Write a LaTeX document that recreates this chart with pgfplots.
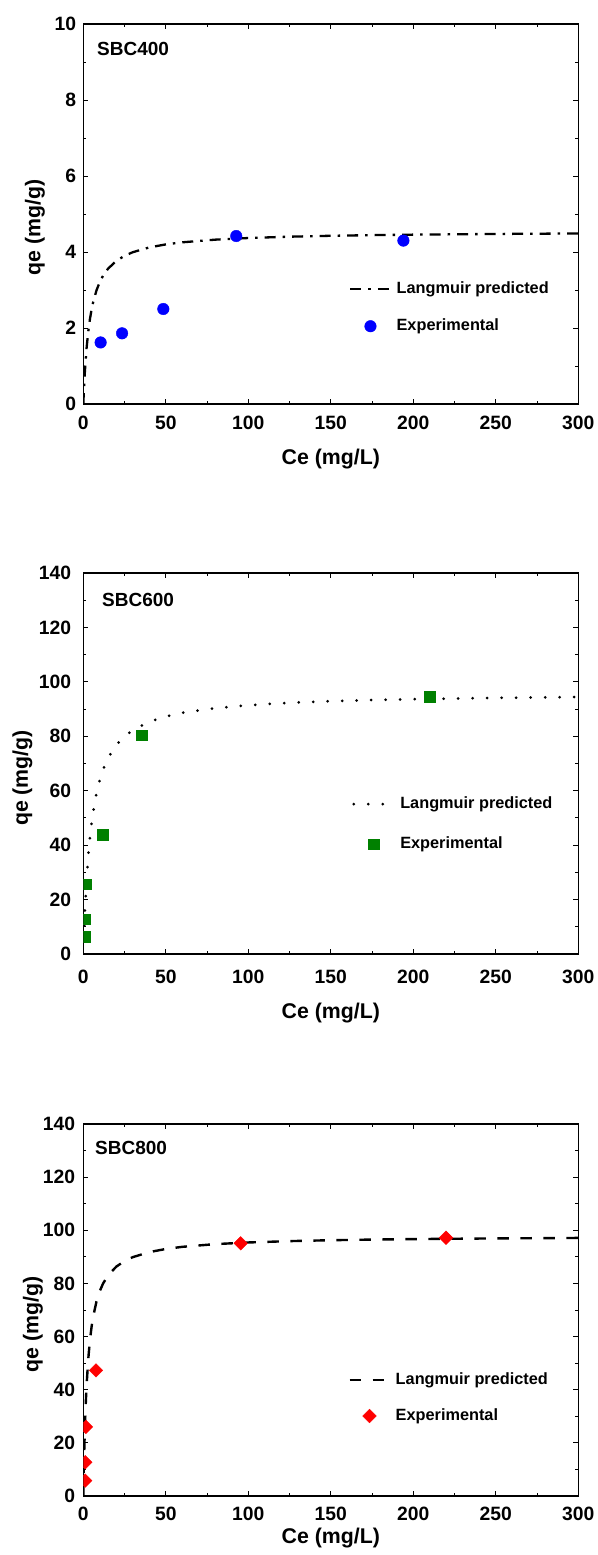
\documentclass[border=0pt]{standalone}
\usepackage{pgfplots}
\pgfplotsset{compat=1.18}
\usepackage{fontspec}
\setmainfont{Liberation Sans}

\definecolor{mblue}{RGB}{0,0,255}
\definecolor{mgreen}{RGB}{0,128,0}
\definecolor{mred}{RGB}{255,0,0}

\pgfplotsset{
  myaxis/.style={
    scale only axis, width=495pt,
    xmin=0, xmax=300, xtick={0,50,...,300}, minor x tick num=1,
    minor y tick num=1,
    tick align=inside, major tick length=5pt, minor tick length=3pt,
    axis line style={line width=1.3pt},
    tick style={line width=1pt, black},
    tick label style={font=\fontsize{19.3}{23}\selectfont\bfseries},
    /pgf/number format/assume math mode=true,
    scaled ticks=false,
    xticklabel style={anchor=base, inner sep=0pt},
    yticklabel style={anchor=east, inner sep=0pt},
    label style={font=\fontsize{21.3}{25}\selectfont\bfseries},
    xlabel={Ce (mg/L)}, ylabel={qe (mg/g)},
    clip marker paths=true,
    legend cell align=left,
    legend style={draw=none, fill=none, font=\fontsize{16.3}{19}\selectfont\bfseries,
      inner sep=0pt, column sep=5pt, cells={anchor=west},
      nodes={inner sep=0pt, text height=12pt, text depth=4pt}},
    legend image code/.code={\draw[mark repeat=2, mark phase=2, ##1] plot coordinates {(0pt,0pt) (20pt,0pt) (40pt,0pt)};},
  }
}

\begin{document}
\begin{tikzpicture}
\useasboundingbox (0,0) rectangle (597pt,-1555pt);

% ---------------- SBC400 ----------------
\begin{axis}[myaxis,
  at={(83.3pt,-404pt)}, anchor=south west, height=380pt,
  ymin=0, ymax=10, ytick={0,2,...,10},
  xticklabel style={yshift=-25pt},
  yticklabel style={xshift=-7pt},
  xlabel style={at={(axis description cs:0.5,0)}, anchor=base, inner sep=0pt, yshift=-60pt},
  ylabel style={at={(axis description cs:-0.0976,0.465)}, anchor=center, inner sep=0pt},
  legend style={at={(axis description cs:0.537,0.2534)}, anchor=west, row sep=21pt},
]
\addplot[black, line width=2.3pt, dash pattern=on 11pt off 7pt on 2.5pt off 7pt] coordinates {
(0,0) (0.5,0.487) (1,0.881) (2,1.476) (3,1.905) (4,2.229) (5,2.482) (6,2.685)
(8,2.992) (10,3.212) (12,3.377) (15,3.561) (20,3.766) (25,3.900) (30,3.995)
(40,4.121) (50,4.200) (60,4.255) (80,4.325) (100,4.368) (125,4.403) (150,4.427)
(175,4.444) (200,4.457) (250,4.475) (300,4.488)};
\addlegendentry{Langmuir predicted}
\addplot[only marks, mark=*, mark size=5.8pt, color=mblue, mark options={solid, draw=mblue, fill=mblue}] coordinates {
(10.5,1.62) (23.5,1.86) (48.5,2.50) (92.7,4.42) (194,4.30)};
\addlegendentry{Experimental}
\node[anchor=base west, inner sep=0pt, font=\fontsize{19}{23}\selectfont\bfseries] at (axis description cs:0.0277,0.916) {SBC400};
\end{axis}

% ---------------- SBC600 ----------------
\begin{axis}[myaxis,
  at={(83.3pt,-954pt)}, anchor=south west, height=381pt,
  ymin=0, ymax=140, ytick={0,20,...,140},
  xticklabel style={yshift=-29pt},
  yticklabel style={xshift=-12pt},
  xlabel style={at={(axis description cs:0.5,0)}, anchor=base, inner sep=0pt, yshift=-64.6pt},
  ylabel style={at={(axis description cs:-0.123,0.462)}, anchor=center, inner sep=0pt},
  legend style={at={(axis description cs:0.543,0.3407)}, anchor=west, row sep=24pt},
]
\addplot[black, line width=3pt, line cap=round, dash pattern=on 0pt off 14.5pt] coordinates {
(0,0) (0.5,8.73) (1,16.0) (2,27.43) (3,36.0) (4,42.67) (5,48.0) (6,52.36)
(8,59.08) (10,64.0) (12,67.76) (15,72.0) (20,76.8) (25,80.0) (30,82.29)
(40,85.33) (50,87.27) (60,88.62) (80,90.35) (100,91.43) (125,92.31) (150,92.90)
(175,93.33) (200,93.66) (250,94.12) (300,94.43)};
\addlegendentry{Langmuir predicted}
\addplot[only marks, mark=square*, mark size=5.3pt, color=mgreen, mark options={solid, draw=mgreen, fill=mgreen}] coordinates {
(1.2,6.4) (1.2,12.75) (1.8,25.7) (11.9,43.8) (35.4,80.4) (210,94.5)};
\addlegendentry{Experimental}
\node[anchor=base west, inner sep=0pt, font=\fontsize{19}{23}\selectfont\bfseries] at (axis description cs:0.0378,0.9116) {SBC600};
\end{axis}

% ---------------- SBC800 ----------------
\begin{axis}[myaxis,
  at={(83.3pt,-1496pt)}, anchor=south west, height=372pt,
  ymin=0, ymax=140, ytick={0,20,...,140},
  xticklabel style={yshift=-24.5pt},
  yticklabel style={xshift=-8pt},
  xlabel style={at={(axis description cs:0.5,0)}, anchor=base, inner sep=0pt, yshift=-47.3pt},
  ylabel style={at={(axis description cs:-0.1016,0.461)}, anchor=center, inner sep=0pt},
  legend style={at={(axis description cs:0.535,0.2634)}, anchor=west, row sep=20pt},
]
\addplot[black, line width=2.4pt, dash pattern=on 11.5pt off 11.5pt] coordinates {
(0,0) (0.25,8.30) (0.5,15.30) (1,26.47) (1.5,34.98) (2,41.68) (3,51.55) (4,58.48)
(5,63.61) (6,67.57) (8,73.25) (10,77.15) (12,79.99) (15,83.04) (20,86.33)
(25,88.44) (30,89.90) (40,91.80) (50,92.97) (60,93.78) (80,94.80) (100,95.42)
(125,95.93) (150,96.27) (175,96.51) (200,96.69) (250,96.95) (300,97.13)};
\addlegendentry{Langmuir predicted}
\addplot[only marks, mark=square*, mark size=4.8pt, color=mred, mark options={solid, rotate=45, draw=mred, fill=mred}] coordinates {
(1.2,5.8) (1.2,12.7) (1.6,26.0) (7.7,47.3) (95.4,95.1) (219.8,97.2)};
\addlegendentry{Experimental}
\node[anchor=base west, inner sep=0pt, font=\fontsize{19}{23}\selectfont\bfseries] at (axis description cs:0.0236,0.9185) {SBC800};
\end{axis}
\end{tikzpicture}
\end{document}
